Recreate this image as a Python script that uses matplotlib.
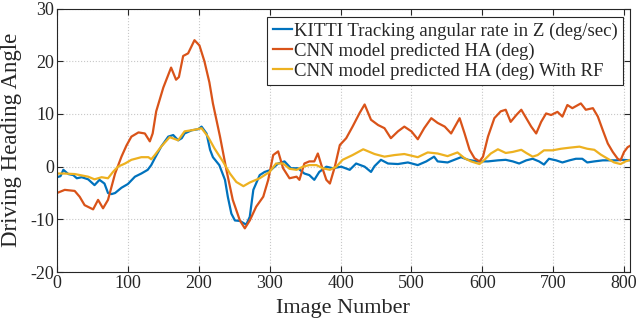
import matplotlib
matplotlib.use('Agg')
import matplotlib.pyplot as plt

# 読み取った値 (image number, angle)
blue_x = [0, 5, 9, 16, 23, 28, 35, 44, 53, 60, 67, 72, 77, 82, 91, 100, 110, 119, 128, 133,
          138, 147, 157, 164, 171, 176, 180, 190, 199, 204, 211, 216, 220, 229, 237, 241, 246, 251, 258, 267,
          272, 277, 286, 293, 302, 312, 321, 330, 340, 349, 356, 363, 370, 380, 389, 401, 413, 422, 434, 443,
          448, 457, 467, 481, 495, 509, 521, 532, 537, 551, 570, 580, 593, 608, 622, 633, 643, 652, 662, 671,
          680, 687, 694, 704, 713, 723, 732, 741, 748, 758, 770, 779, 788, 798, 809]
blue_y = [-2, -1.8, -0.6, -1.4, -1.6, -2.2, -2, -2.4, -3.5, -2.5, -3.2, -5, -5.2, -5, -4, -3.3, -1.9, -1.3, -0.6, 0.3,
          1.6, 3.8, 5.7, 6, 5, 5.4, 6.3, 6.9, 7.1, 7.6, 6.3, 3.2, 1.8, 0.3, -2.5, -5.7, -8.9, -10.2, -10.3, -11,
          -9.5, -4.4, -1.6, -1, -0.6, 0.6, 1, -0.3, -0.3, -1.3, -1.6, -2.5, -1, 0, -0.3, 0, -0.6, 0.6, 0, -1,
          0.1, 1.3, 0.6, 0.5, 0.8, 0.3, 1, 1.9, 1, 0.8, 1.8, 1.3, 1, 1, 1.2, 1.3, 1, 0.6, 1.2, 1.5,
          1, 0.4, 1.5, 1.2, 0.8, 1.2, 1.5, 1.5, 0.8, 1, 1.2, 1.2, 1.2, 1.3, 1.2]

red_x = [0, 11, 25, 32, 39, 51, 58, 65, 72, 82, 91, 98, 105, 115, 124, 131, 135, 140, 150, 161,
         168, 172, 178, 185, 194, 201, 208, 215, 220, 230, 239, 248, 258, 265, 272, 281, 291, 298, 305, 312,
         319, 328, 338, 342, 349, 356, 363, 368, 373, 380, 385, 392, 399, 408, 417, 427, 434, 443, 453, 462,
         471, 481, 490, 500, 509, 518, 528, 537, 547, 556, 568, 575, 582, 589, 596, 601, 608, 617, 626, 633,
         640, 648, 655, 662, 669, 676, 683, 690, 697, 706, 713, 720, 727, 739, 746, 756, 763, 770, 777, 784,
         791, 795, 800, 805, 809]
red_y = [-5, -4.4, -4.6, -5.7, -7.3, -8.1, -6.3, -7.9, -6.3, -1.3, 1.9, 4, 5.7, 6.5, 6.3, 4.8, 6.3, 10.5, 15, 18.8,
         16.5, 17, 21, 21.5, 24, 23, 20, 16, 12, 5.7, -0.6, -6.3, -10.2, -11.7, -10.2, -7.6, -5.7, -2.5, 2.2, 2.9,
         -0.3, -2.2, -1.9, -2.5, 0.6, 1, 1, 2.5, 0.3, -2.5, -3.2, 0, 4.1, 5.4, 7.6, 10.2, 11.8, 8.9, 7.9, 7.3,
         5.4, 6.7, 7.6, 6.7, 5.2, 7.3, 9.2, 8.3, 7.6, 6.3, 9.2, 6.3, 3.2, 1.6, 1, 1.9, 5.7, 9.2, 10.5, 10.8,
         8.5, 9.8, 10.8, 9.2, 7.6, 6.3, 8.5, 10.1, 9.8, 10.4, 9.5, 11.7, 11.1, 12, 10.8, 11.1, 9.5, 6.9, 4.4, 2.8,
         1.5, 1.2, 2.8, 3.7, 4]

yel_x = [0, 10, 25, 44, 53, 63, 72, 79, 86, 96, 105, 119, 129, 133, 138, 147, 159, 171, 180, 194,
         204, 213, 222, 234, 244, 253, 263, 272, 286, 300, 309, 319, 328, 338, 347, 356, 366, 375, 385, 394,
         403, 417, 432, 448, 462, 476, 490, 509, 523, 537, 551, 565, 575, 584, 596, 603, 612, 622, 633, 643,
         655, 662, 671, 678, 687, 699, 711, 723, 737, 748, 758, 767, 777, 786, 795, 802, 809]
yel_y = [-1.3, -1.3, -1.4, -1.9, -2.4, -2, -2.2, -1, 0, 0.6, 1.3, 1.8, 1.8, 1.4, 2.2, 3.8, 5.6, 5, 6.7, 7,
         7.3, 5.7, 3.5, 1, -1.3, -2.9, -3.7, -3, -2.2, -1, 0.6, 0.6, -0.4, -0.6, 0, 0.3, 0.3, -0.3, -0.6, 0,
         1.3, 2.2, 3.3, 2.4, 1.9, 2.2, 2.4, 1.8, 2.7, 2.5, 2, 2.7, 1.6, 1, 0.5, 1.3, 2.5, 3.3, 2.6, 2.8,
         3.2, 2.6, 1.9, 2.2, 3.1, 3.1, 3.4, 3.6, 3.8, 3.4, 3.2, 2.3, 1.5, 0.8, 0.5, 1, 1.3]

labels = ['KITTI Tracking angular rate in Z (deg/sec)',
          'CNN model predicted HA (deg)',
          'CNN model predicted HA (deg) With RF']
x_ticks = [0, 100, 200, 300, 400, 500, 600, 700, 800]
y_ticks = [-20, -10, 0, 10, 20, 30]

plt.rcParams['font.family'] = ['Liberation Serif', 'DejaVu Serif']
plt.rcParams['axes.unicode_minus'] = False
dark = '#262626'

fig = plt.figure(figsize=(6.4, 3.29), dpi=100)
ax = fig.add_axes([0.089, 0.173, 0.895, 0.801])

ax.plot(blue_x, blue_y, color='#0072BD', lw=1.6, label=labels[0])
ax.plot(red_x, red_y, color='#D95319', lw=1.6, label=labels[1])
ax.plot(yel_x, yel_y, color='#EDB120', lw=1.6, label=labels[2])

ax.set_xlim(0, 808)
ax.set_ylim(-20, 30)
ax.set_xticks(x_ticks)
ax.set_yticks(y_ticks)
ax.grid(True, linestyle=':', color='#c8c8c8', lw=0.8)
ax.tick_params(direction='in', top=True, right=True, labelsize=13, length=4,
               color=dark, labelcolor=dark, pad=2)
for s in ax.spines.values():
    s.set_color(dark)
    s.set_linewidth(0.8)

ax.set_xlabel('Image Number', fontsize=16, labelpad=5, color=dark)
ax.set_ylabel('Driving Heading Angle', fontsize=16.5, labelpad=6, color=dark)

leg = ax.legend(loc='upper right', bbox_to_anchor=(0.988, 0.968), fontsize=13.5,
                handlelength=1.0, handletextpad=0.1, labelspacing=0.14, borderpad=0.3,
                borderaxespad=0, fancybox=False, framealpha=1)
leg.get_frame().set_edgecolor(dark)
leg.get_frame().set_linewidth(0.8)
for t in leg.get_texts():
    t.set_color(dark)

plt.savefig('out.png', dpi=100)
plt.close()
